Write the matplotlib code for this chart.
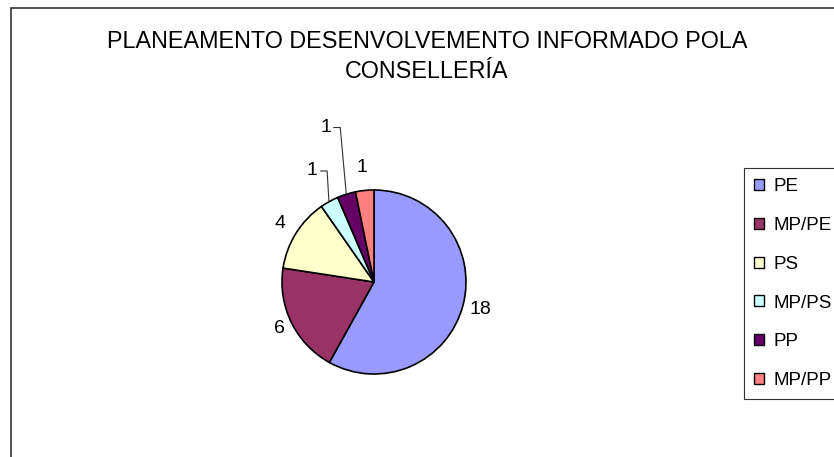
import numpy as np
import matplotlib
matplotlib.use("Agg")
import matplotlib.pyplot as plt
from matplotlib.patches import Rectangle

categories = ["PE", "MP/PE", "PS", "MP/PS", "PP", "MP/PP"]
values = [18, 6, 4, 1, 1, 1]
colors = ["#9999FF", "#993366", "#FFFFCC", "#CCFFFF", "#660066", "#FF8080"]
title = "PLANEAMENTO DESENVOLVEMENTO INFORMADO POLA\nCONSELLERÍA"

# style: label distance (radius units) per slice, leader line flag
label_dist = [1.19, 1.15, 1.2, 1.38, 1.76, 1.25]
leader = [False, False, False, True, True, False]

plt.rcParams['font.family'] = ['Liberation Sans', 'DejaVu Sans']

W, H = 834, 457
fig = plt.figure(figsize=(W / 100, H / 100), dpi=100)

# chart area border (right/bottom edges are outside the image)
fig.patches.append(Rectangle((11 / W, -0.5), 2.0, 1.5 - 8 / H, transform=fig.transFigure,
                             fill=False, edgecolor="#222222", linewidth=1.1))

cx, cy, R = 374, 282, 92
ax = fig.add_axes([(cx - R) / W, (H - cy - R) / H, 2 * R / W, 2 * R / H])
wedges, _ = ax.pie(values, colors=colors, startangle=90, counterclock=False,
                   radius=1.0, wedgeprops=dict(edgecolor="black", linewidth=1.2))
ax.set_xlim(-1, 1)
ax.set_ylim(-1, 1)
ax.axis("off")

for w, v, d, ld in zip(wedges, values, label_dist, leader):
    ang = np.deg2rad((w.theta1 + w.theta2) / 2)
    lx, ly = d * np.cos(ang), d * np.sin(ang)
    ax.text(lx, ly, str(v), ha="center", va="center", fontsize=14, clip_on=False)
    if ld:
        ex, ey = 1.01 * np.cos(ang), 1.01 * np.sin(ang)
        ax.plot([ex, lx + 0.16, lx + 0.09], [ey, ly, ly], color="#333333",
                linewidth=0.8, clip_on=False)

leg = fig.legend(wedges, categories, loc="upper left",
                 bbox_to_anchor=(744 / W, 1 - 168 / H), fontsize=13.5,
                 frameon=True, fancybox=False, shadow=False,
                 handlelength=0.53, handleheight=0.53, handletextpad=0.5,
                 labelspacing=1.16, borderpad=0.55, borderaxespad=0)
leg.get_frame().set_edgecolor("black")
leg.get_frame().set_linewidth(0.8)
for h in leg.legend_handles:
    h.set_edgecolor("black")
    h.set_linewidth(1.0)

fig.text(427 / W, 1 - 56.5 / H, title, ha="center", va="center",
         fontsize=16.8, linespacing=1.43)

fig.savefig("out.png", dpi=100)
